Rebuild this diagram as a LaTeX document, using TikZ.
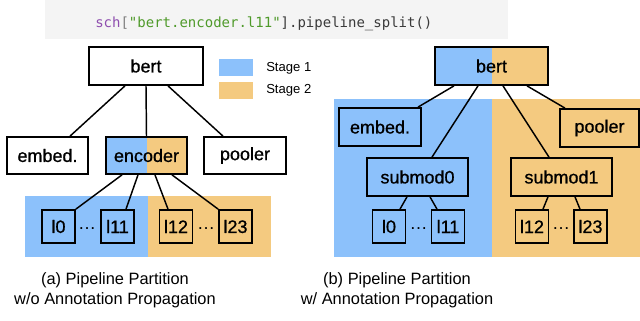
\documentclass[tikz,border=0pt]{standalone}
\usepackage{fontspec}
\setmainfont{Liberation Sans}
\newfontfamily\codefont{DejaVu Sans Mono}
\newfontfamily\boxfont[FakeBold=0.8]{Liberation Sans}
\usetikzlibrary{calc}

\definecolor{stageone}{HTML}{8CC1FB}
\definecolor{stagetwo}{HTML}{F4CA80}
\definecolor{codebg}{HTML}{F4F4F4}
\definecolor{codekw}{HTML}{8F4FAF}
\definecolor{codestr}{HTML}{4F9A2A}
\definecolor{codetxt}{HTML}{3A3A3A}

% sizes below are in pt (1px = 0.75pt)
\tikzset{
  module/.style={draw,line width=1.3pt,fill=white,minimum width=60.75pt,minimum height=27.75pt,
    inner sep=0pt,font=\boxfont\fontsize{13.5}{15}\selectfont},
  layer/.style={module,minimum width=24.75pt,minimum height=24.75pt},
  split/.style={path picture={
    \fill[stageone] (path picture bounding box.south west) rectangle (path picture bounding box.north);
    \fill[stagetwo] (path picture bounding box.south) rectangle (path picture bounding box.north east);}},
  link/.style={line width=1.1pt},
  dots/.style={font=\fontsize{13.5}{15}\selectfont},
  caption/.style={align=center,font=\fontsize{12.3}{15}\selectfont},
}

\begin{document}
\begin{tikzpicture}[x=0.75pt,y=-0.75pt]
\useasboundingbox (0,0) rectangle (640,321);

% code line
\fill[codebg] (45,0) rectangle (508,39);
\node[anchor=base west,inner sep=0pt,font=\codefont\fontsize{10.5}{12}\selectfont] (code) at (95,27.5)
  {\textcolor{codekw}{sch}\textcolor{gray}{[}\textcolor{codestr}{"bert.encoder.l11"}\textcolor{codetxt}{].pipeline\_split()}};

% ---- (a) without propagation
\fill[stageone] (25,196) rectangle (148,257);
\fill[stagetwo] (148,196) rectangle (271,257);

\node[module,minimum width=85.5pt,minimum height=28.5pt] (bertA) at (146,66) {bert};
\node[module] (embedA) at (47.5,155.5) {embed.};
\node[module,split] (encoder) at (146.5,155.5) {encoder};
\node[module,minimum width=61.5pt] (poolerA) at (245,155.5) {pooler};

\node[layer,fill=stageone] (l0A) at (58.5,226.5) {l0};
\node[layer,fill=stageone] (l11A) at (117.5,226.5) {l11};
\node[layer,fill=stagetwo] (l12A) at (176,226.5) {l12};
\node[layer,fill=stagetwo] (l23A) at (235.5,226.5) {l23};
\node[dots] (dotsA1) at (87,229) {\dots};
\node[dots] (dotsA2) at (206,229) {\dots};

\draw[link] ($(bertA.south)+(-21,0)$) -- ($(embedA.north)+(22.5,0)$);
\draw[link] (bertA.south) -- (encoder.north);
\draw[link] ($(bertA.south)+(22,0)$) -- ($(poolerA.north)+(-22,0)$);
\draw[link] ($(encoder.south)+(-24.5,0)$) -- (l0A.north east);
\draw[link] ($(encoder.south)+(-8.5,0)$) -- ($(l11A.north)+(8.5,0)$);
\draw[link] ($(encoder.south)+(8.5,0)$) -- ($(l12A.north)+(-8,0)$);
\draw[link] ($(encoder.south)+(25.5,0)$) -- (l23A.north west);

% legend
\fill[stageone] (219,59) rectangle (253,76);
\fill[stagetwo] (219,82) rectangle (253,99);
\node[anchor=west,inner sep=0pt,font=\fontsize{9.8}{11}\selectfont] (stage1) at (266,68.5) {Stage 1};
\node[anchor=west,inner sep=0pt,font=\fontsize{9.8}{11}\selectfont] (stage2) at (266,90.5) {Stage 2};

% ---- (b) with propagation
\fill[stageone] (334,99.5) rectangle (492,257);
\fill[stagetwo] (492,99.5) rectangle (640,257);

\node[module,split,minimum width=84.75pt,minimum height=28.5pt] (bertB) at (491.5,66) {bert};
\node[module,fill=stageone,minimum width=61.5pt,minimum height=28.5pt] (embedB) at (380,127) {embed.};
\node[module,fill=stagetwo,minimum width=59.25pt,minimum height=28.5pt] (poolerB) at (599.5,128) {pooler};
\node[module,fill=stageone,minimum width=75.75pt,minimum height=28.5pt] (submod0) at (417.5,177) {submod0};
\node[module,fill=stagetwo,minimum width=75.75pt,minimum height=28.5pt] (submod1) at (561.5,177) {submod1};

\node[layer,fill=stageone] (l0B) at (389,226.5) {l0};
\node[layer,fill=stageone] (l11B) at (448,226.5) {l11};
\node[layer,fill=stagetwo] (l12B) at (532,226.5) {l12};
\node[layer,fill=stagetwo] (l23B) at (590.5,226.5) {l23};
\node[dots] (dotsB1) at (418.5,229) {\dots};
\node[dots] (dotsB2) at (561,229) {\dots};

\draw[link] ($(bertB.south)+(-37.5,0)$) -- ($(embedB.north)+(38,0)$);
\draw[link] ($(bertB.south)+(-13.5,0)$) -- ($(submod0.north)+(14.5,0)$);
\draw[link] ($(bertB.south)+(11.5,0)$) -- ($(submod1.north)+(-12.5,0)$);
\draw[link] ($(bertB.south)+(35.5,0)$) -- ($(poolerB.north)+(-34.5,0)$);
\draw[link] ($(submod0.south)+(-10.5,0)$) -- ($(l0B.north)+(11,0)$);
\draw[link] ($(submod0.south)+(12.5,0)$) -- ($(l11B.north)+(-11,0)$);
\draw[link] ($(submod1.south)+(-13.5,0)$) -- ($(l12B.north)+(11,0)$);
\draw[link] ($(submod1.south)+(13.5,0)$) -- ($(l23B.north)+(-10.5,0)$);

% captions
\node[caption] (capA) at (115,290) {(a) Pipeline Partition\\w/o Annotation Propagation};
\node[caption] (capB) at (397,290) {(b) Pipeline Partition\\w/ Annotation Propagation};

\end{tikzpicture}
\end{document}
